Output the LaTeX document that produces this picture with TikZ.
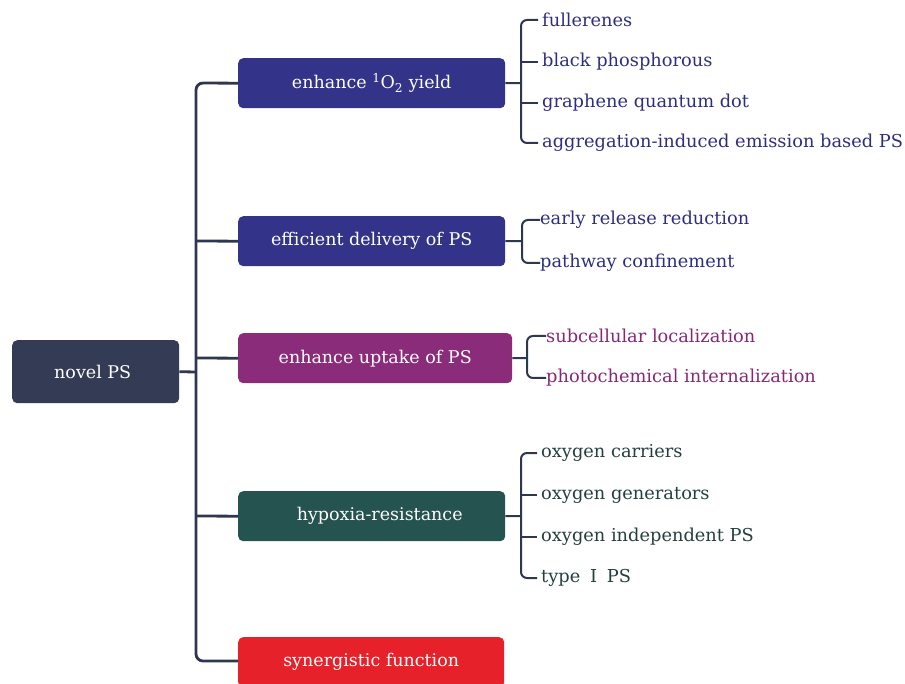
\documentclass[tikz,border=0pt]{standalone}
\usepackage{fontspec}
\usetikzlibrary{calc}
\setmainfont{DejaVu Serif}
\definecolor{cline}{HTML}{2E3650}
\definecolor{croot}{HTML}{333B55}
\definecolor{cblue}{HTML}{33338A}
\definecolor{cpurple}{HTML}{8B2C7B}
\definecolor{cteal}{HTML}{245350}
\definecolor{cred}{HTML}{E6212A}
\definecolor{tblue}{HTML}{2E2E80}
\definecolor{tpurple}{HTML}{862875}
\definecolor{tteal}{HTML}{243F3E}
\begin{document}
\begin{tikzpicture}[x=1pt,y=-1pt,
  boxnode/.style={rounded corners=5pt, text=white, inner sep=0pt, anchor=north west, font=\fontsize{17.5}{19}\selectfont},
  leaf/.style={anchor=west, inner sep=0pt, font=\fontsize{17.8}{19}\selectfont},
  trunk/.style={draw=cline, line width=2.8pt, rounded corners=7pt},
  brk/.style={draw=cline, line width=2pt, rounded corners=6pt}]
\useasboundingbox (0,0) rectangle (905,684);
% boxes
\node[boxnode, fill=croot, minimum width=167pt, minimum height=63pt] (root) at (12,340) {novel PS\hspace*{6pt}};
\node[boxnode, fill=cblue, minimum width=267pt, minimum height=50pt] (b1) at (238,58) {enhance \textsuperscript{1}O\textsubscript{2} yield};
\node[boxnode, fill=cblue, minimum width=267pt, minimum height=50pt] (b2) at (238,216) {efficient delivery of PS};
\node[boxnode, fill=cpurple, minimum width=274pt, minimum height=50pt] (b3) at (238,333) {enhance uptake of PS};
\node[boxnode, fill=cteal, minimum width=267pt, minimum height=50pt] (b4) at (238,491) {\hspace*{16pt}hypoxia-resistance};
\node[boxnode, fill=cred, minimum width=266pt, minimum height=50pt] (b5) at (238,637) {synergistic function};
% trunk
\coordinate (tj) at (196,372);
\draw[trunk] (root.east) -- (tj);
\draw[trunk] (b1.west) -- (196,83) -- (196,661) -- (b5.west |- 0,661);
\draw[trunk] (196,241) -- (b2.west);
\draw[trunk] (196,358) -- (b3.west);
\draw[trunk] (196,516) -- (b4.west);
% leaves group 1
\node[leaf, text=tblue] (l11) at (542,20) {fullerenes};
\node[leaf, text=tblue] (l12) at (542,62) {black phosphorous};
\node[leaf, text=tblue] (l13) at (542,103) {graphene quantum dot};
\node[leaf, text=tblue] (l14) at (542,143) {aggregation-induced emission based PS};
\draw[brk] (b1.east) -- (521,83);
\draw[brk] ($(l11.west)+(-4,0)$) -- (521,20) -- (521,143) -- ($(l14.west)+(-4,0)$);
\draw[brk] (521,62) -- ($(l12.west)+(-4,0)$);
\draw[brk] (521,103) -- ($(l13.west)+(-4,0)$);
% leaves group 2
\node[leaf, text=tblue] (l21) at (540,220) {early release reduction};
\node[leaf, text=tblue] (l22) at (540,263) {pathway confinement};
\draw[brk] (b2.east) -- (522,241);
\draw[brk] (l21.west) -- (522,220) -- (522,263) -- (l22.west);
% leaves group 3
\node[leaf, text=tpurple] (l31) at (546,336) {subcellular localization};
\node[leaf, text=tpurple] (l32) at (546,378) {photochemical internalization};
\draw[brk] (b3.east) -- (527,358);
\draw[brk] (l31.west) -- (527,336) -- (527,378) -- (l32.west);
% leaves group 4
\node[leaf, text=tteal] (l41) at (541,453) {oxygen carriers};
\node[leaf, text=tteal] (l42) at (541,495) {oxygen generators};
\node[leaf, text=tteal] (l43) at (541,537) {oxygen independent PS};
\node[leaf, text=tteal] (l44) at (541,578) {type\hspace{0.55em}I\hspace{0.55em}PS};
\draw[brk] (b4.east) -- (521,516);
\draw[brk] ($(l41.west)+(-4,0)$) -- (521,453) -- (521,578) -- ($(l44.west)+(-4,0)$);
\draw[brk] (521,495) -- ($(l42.west)+(-4,0)$);
\draw[brk] (521,537) -- ($(l43.west)+(-4,0)$);
\end{tikzpicture}
\end{document}
